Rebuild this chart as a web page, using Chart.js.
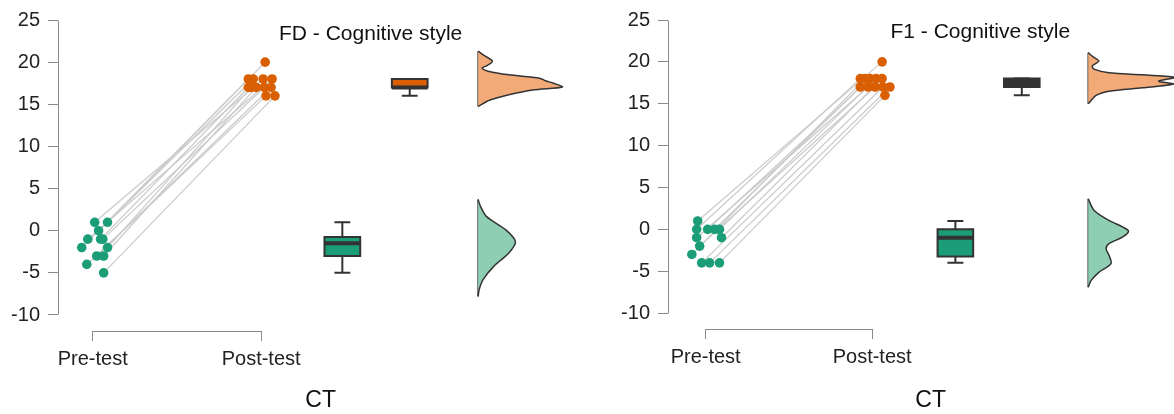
<!DOCTYPE html>
<html>
<head>
<meta charset="utf-8">
<script src="https://cdn.jsdelivr.net/npm/chart.js@4/dist/chart.umd.min.js"></script>
<style>
  html, body { margin: 0; padding: 0; background: #fff; overflow: hidden; width: 1174px; height: 414px; }
  canvas { position: absolute; top: 0; }
  #fd { left: 0; }
  #f1 { left: 587px; }
</style>
</head>
<body>
<canvas id="fd" width="588" height="414"></canvas>
<canvas id="f1" width="611" height="414"></canvas>
<script>
// ---------- data ----------
const phaseLabels = ['Pre-test', 'Post-test'];
const groupName = 'CT';
const yTicks = [-10, -5, 0, 5, 10, 15, 20, 25];

// FD - Cognitive style (one entry per participant, pre and post paired by index)
const fdTitle = 'FD - Cognitive style';
const fdPre  = [1, 1, 0, -1, -1, -1, -2, -2, -3, -3, -4, -5];
const fdPost = [18, 20, 18, 18, 17, 17, 18, 17, 17, 17, 16, 16];
const fdPreJitter  = [0.012, 0.088, 0.035, -0.029, 0.047, 0.06, -0.065, 0.088, 0.024, 0.065, -0.035, 0.065];
const fdPostJitter = [0.012, 0.024, -0.076, 0.065, -0.076, 0.018, -0.047, -0.059, 0.059, -0.029, 0.029, 0.082];
// half-violin density outlines: score grid and density height
const fdPreDensScore  = [3.7, 3.0, 1.7, 0.1, -1.3, -2.65, -4.2, -5.8, -7.0, -7.8];
const fdPreDens       = [0, 0.02, 0.083, 0.28, 0.377, 0.31, 0.16, 0.05, 0.01, 0];
const fdPostDensScore = [21.3, 20.8, 20.1, 19.6, 19.3, 18.9, 18.5, 18.1, 17.8, 17.5, 17.05, 16.7, 16.1, 15.5, 14.75];
const fdPostDens      = [0, 0.06, 0.145, 0.09, 0.04, 0.11, 0.31, 0.62, 0.68, 0.76, 0.85, 0.55, 0.3, 0.12, 0];

// F1 - Cognitive style
const f1Title = 'F1 - Cognitive style';
const f1Pre  = [1, 0, 0, 0, 0, -1, -1, -2, -3, -4, -4, -4];
const f1Post = [20, 18, 18, 17, 18, 17, 18, 17, 18, 17, 17, 16];
const f1PreJitter  = [-0.048, -0.054, 0.012, 0.054, 0.083, -0.054, 0.095, -0.036, -0.083, -0.024, 0.024, 0.083];
const f1PostJitter = [0.06, -0.071, -0.012, -0.071, 0.024, -0.024, 0.06, 0.018, -0.042, 0.065, 0.107, 0.077];
const f1PreDensScore  = [3.65, 2.26, 1.07, 0.27, -0.2, -0.9, -1.7, -2.3, -3.1, -4.1, -5.1, -6.1, -6.9];
const f1PreDens       = [0, 0.06, 0.21, 0.35, 0.407, 0.35, 0.21, 0.18, 0.21, 0.23, 0.11, 0.03, 0];
const f1PostDensScore = [21.1, 20.6, 20.1, 19.5, 19.1, 18.7, 18.45, 18.15, 17.7, 17.35, 16.9, 16.5, 16.0, 15.0];
const f1PostDens      = [0, 0.05, 0.107, 0.04, 0.063, 0.21, 0.55, 0.88, 0.71, 0.86, 0.55, 0.21, 0.08, 0];

// ---------- styling ----------
const FONT = '"Liberation Sans", Arial, Helvetica, sans-serif';
const ink = '#333333';
const axisGrey = '#8a8a8a';
const pairGrey = '#cbcbcb';
const preColor = '#1b9e77';
const postColor = '#d95f02';
const preCloud = '#8ecfb4';
const postCloud = '#f2ab78';

// ---------- helpers ----------
function quantile(sorted, p) {
  const h = (sorted.length - 1) * p;
  const lo = Math.floor(h), hi = Math.ceil(h);
  return sorted[lo] + (h - lo) * (sorted[hi] - sorted[lo]);
}
function boxStats(values) {
  const s = [...values].sort((a, b) => a - b);
  const q1 = quantile(s, 0.25), med = quantile(s, 0.5), q3 = quantile(s, 0.75);
  const iqr = q3 - q1;
  const lo = s.find(v => v >= q1 - 1.5 * iqr);
  const hi = [...s].reverse().find(v => v <= q3 + 1.5 * iqr);
  return { q1, med, q3, lo, hi };
}
function seg(points, color, width, order) {
  return { type: 'line', data: points, borderColor: color, borderWidth: width,
           pointRadius: 0, fill: false, tension: 0, order, borderCapStyle: 'butt' };
}
function boxDatasets(values, x, L, fillColor) {
  const b = boxStats(values);
  const hw = L.boxHalf, cw = L.capHalf;
  return [
    seg([{ x, y: b.q3 }, { x, y: b.hi }], ink, 2, 3),
    seg([{ x: x - cw, y: b.hi }, { x: x + cw, y: b.hi }], ink, 2, 3),
    seg([{ x, y: b.q1 }, { x, y: b.lo }], ink, 2, 3),
    seg([{ x: x - cw, y: b.lo }, { x: x + cw, y: b.lo }], ink, 2, 3),
    { type: 'line',
      data: [{ x: x - hw, y: b.q1 }, { x: x + hw, y: b.q1 }, { x: x + hw, y: b.q3 },
             { x: x - hw, y: b.q3 }, { x: x - hw, y: b.q1 }],
      borderColor: ink, borderWidth: 2, backgroundColor: fillColor, fill: 'shape',
      pointRadius: 0, tension: 0, order: 2, borderJoinStyle: 'miter', borderCapStyle: 'square' },
    seg([{ x: x - hw, y: b.med }, { x: x + hw, y: b.med }], ink, 4, 1)
  ];
}
function cloudDatasets(scores, dens, L, fillColor) {
  const pts = scores.map((s, i) => ({ x: L.densBase + dens[i] * L.densUnit, y: s }));
  return [
    { type: 'line', data: pts, borderColor: ink, borderWidth: 1.5, backgroundColor: fillColor,
      fill: 'shape', pointRadius: 0, tension: 0.3, order: 4 },
    seg([{ x: L.densBase, y: scores[0] }, { x: L.densBase, y: scores[scores.length - 1] }], ink, 1.5, 4)
  ];
}

// axis line, bracket under the two phases and panel heading
const decorations = {
  id: 'decorations',
  afterDraw(chart, args, opts) {
    const { ctx, chartArea, scales: { x, y } } = chart;
    const crisp = p => Math.round(p - 0.5) + 0.5;
    ctx.save();
    ctx.strokeStyle = axisGrey;
    ctx.lineWidth = 1;
    ctx.beginPath();
    const ax = crisp(chartArea.left);
    ctx.moveTo(ax, crisp(y.getPixelForValue(yTicks[0])));
    ctx.lineTo(ax, crisp(y.getPixelForValue(yTicks[yTicks.length - 1])));
    const by = crisp(chartArea.bottom);
    ctx.moveTo(crisp(x.getPixelForValue(1)), by);
    ctx.lineTo(crisp(x.getPixelForValue(2)), by);
    ctx.stroke();
    ctx.fillStyle = '#111';
    ctx.font = '21px ' + FONT;
    ctx.textAlign = 'center';
    ctx.textBaseline = 'middle';
    ctx.fillText(opts.title, x.getPixelForValue(opts.titleX), y.getPixelForValue(opts.titleY));
    ctx.restore();
  }
};

function makePanel(canvasId, title, pre, post, preJit, postJit,
                   preDS, preD, postDS, postD, L) {
  const datasets = [];
  pre.forEach((v, i) => {
    datasets.push(seg([{ x: 1 + preJit[i], y: v }, { x: 2 + postJit[i], y: post[i] }], pairGrey, 1.3, 10));
  });
  datasets.push({ type: 'line', showLine: false, order: 0,
    data: pre.map((v, i) => ({ x: 1 + preJit[i], y: v })),
    pointRadius: 4.8, pointBorderWidth: 0, pointBackgroundColor: preColor, borderColor: preColor });
  datasets.push({ type: 'line', showLine: false, order: 0,
    data: post.map((v, i) => ({ x: 2 + postJit[i], y: v })),
    pointRadius: 4.8, pointBorderWidth: 0, pointBackgroundColor: postColor, borderColor: postColor });
  datasets.push(...boxDatasets(pre, L.preBox, L, preColor));
  datasets.push(...boxDatasets(post, L.postBox, L, L.postBoxFill));
  datasets.push(...cloudDatasets(preDS, preD, L, preCloud));
  datasets.push(...cloudDatasets(postDS, postD, L, postCloud));

  const tickFont = { family: FONT, size: 20 };
  return new Chart(document.getElementById(canvasId), {
    type: 'line',
    data: { datasets },
    options: {
      responsive: false,
      animation: false,
      devicePixelRatio: 1,
      events: [],
      layout: { padding: { top: L.padTop, left: 0, right: 0, bottom: 0 } },
      plugins: {
        legend: { display: false },
        tooltip: { enabled: false },
        decorations: { title, titleX: L.titleX, titleY: L.titleY }
      },
      scales: {
        x: {
          type: 'linear', min: L.xMin, max: L.xMax,
          afterBuildTicks: s => { s.ticks = [{ value: 1 }, { value: 2 }]; },
          afterFit: s => { s.height = L.axisH; },
          ticks: { autoSkip: false, maxRotation: 0, padding: 6, color: '#222', font: tickFont,
                   callback: (v, i) => phaseLabels[i] },
          grid: { drawOnChartArea: false, drawTicks: true, tickLength: 10, color: axisGrey, lineWidth: 1 },
          border: { display: false },
          title: { display: true, text: groupName, color: '#111',
                   font: { family: FONT, size: 23 }, padding: { top: 0, bottom: 0 } }
        },
        y: {
          type: 'linear', min: L.yMin, max: L.yMax,
          afterBuildTicks: s => { s.ticks = yTicks.map(v => ({ value: v })); },
          afterFit: s => { s.width = L.axisW; },
          ticks: { padding: 8, color: '#222', font: tickFont, callback: v => String(v) },
          grid: { drawOnChartArea: false, drawTicks: true, tickLength: 10, color: axisGrey, lineWidth: 1 },
          border: { display: false }
        }
      }
    },
    plugins: [decorations]
  });
}

makePanel('fd', fdTitle, fdPre, fdPost, fdPreJitter, fdPostJitter,
  fdPreDensScore, fdPreDens, fdPostDensScore, fdPostDens,
  { xMin: 0.7941, xMax: 3.9118, yMin: -11.9, yMax: 25, padTop: 20, axisW: 58, axisH: 83,
    preBox: 2.482, postBox: 2.882, boxHalf: 0.106, capHalf: 0.047, postBoxFill: postColor,
    densBase: 3.288, densUnit: 0.588, titleX: 2.65, titleY: 23.3 });

makePanel('f1', f1Title, f1Pre, f1Post, f1PreJitter, f1PostJitter,
  f1PreDensScore, f1PreDens, f1PostDensScore, f1PostDens,
  { xMin: 0.7738, xMax: 3.9286, yMin: -11.9, yMax: 25, padTop: 19, axisW: 81, axisH: 85,
    preBox: 2.5, postBox: 2.899, boxHalf: 0.107, capHalf: 0.048, postBoxFill: ink,
    densBase: 3.298, densUnit: 0.595, titleX: 2.65, titleY: 23.6 });
</script>
</body>
</html>
